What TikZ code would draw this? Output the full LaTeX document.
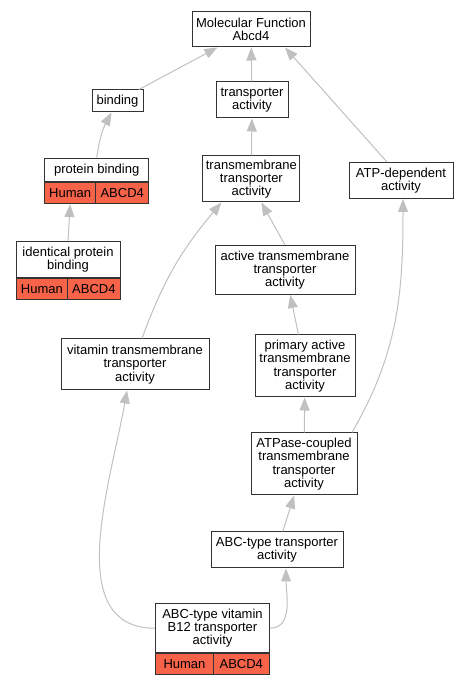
\documentclass[tikz,border=0pt]{standalone}
\usepackage{fontspec}
\setmainfont{Liberation Sans}
\usetikzlibrary{arrows.meta}
\definecolor{hitred}{RGB}{246,99,72}
\definecolor{edgegray}{RGB}{192,192,192}
\tikzset{
  term/.style={draw=black!80, line width=1pt, fill=white, align=center,
    inner sep=0pt, font=\fontsize{13}{13.3}\selectfont},
  gene/.style={term, fill=hitred, anchor=north west},
  link/.style={color=edgegray, line width=1pt, -{Triangle[length=13pt,width=10pt]}}
}

\begin{document}
\begin{tikzpicture}[x=1pt, y=1pt]
\useasboundingbox (0,0) rectangle (465,685);
% terms
\node[term, minimum width=118pt, minimum height=35pt] (mf) at (251,655.5) {Molecular Function\\Abcd4};
\node[term, minimum width=51pt, minimum height=22pt] (bd) at (117.5,584) {binding};
\node[term, minimum width=72pt, minimum height=36pt] (ta) at (252,585) {transporter\\activity};
\node[term, minimum width=104pt, minimum height=23.5pt] (pb) at (96.7,515.2) {protein binding};
\node[gene, minimum width=51pt, minimum height=21pt] (pbh) at (pb.south west) {Human};
\node[gene, anchor=north east, minimum width=53pt, minimum height=21pt] (pbg) at (pb.south east) {ABCD4};
\node[term, minimum width=104pt, minimum height=35.5pt] (ipb) at (68,425.7) {identical protein\\binding};
\node[gene, minimum width=51.7pt, minimum height=21.5pt] (ipbh) at (ipb.south west) {Human};
\node[gene, anchor=north east, minimum width=52.3pt, minimum height=21.5pt] (ipbg) at (ipb.south east) {ABCD4};
\node[term, minimum width=97pt, minimum height=46pt] (tm) at (251.4,506) {transmembrane\\transporter\\activity};
\node[term, minimum width=104pt, minimum height=36pt] (atp) at (401,504.5) {ATP-dependent\\activity};
\node[term, minimum width=140pt, minimum height=49pt] (atm) at (285,415) {active transmembrane\\transporter\\activity};
\node[term, minimum width=148pt, minimum height=51pt] (vtm) at (135,320.5) {vitamin transmembrane\\transporter\\activity};
\node[term, minimum width=100pt, minimum height=62pt] (pa) at (305,319) {primary active\\transmembrane\\transporter\\activity};
\node[term, minimum width=106pt, minimum height=62pt] (atpc) at (304,221) {ATPase-coupled\\transmembrane\\transporter\\activity};
\node[term, minimum width=132pt, minimum height=36pt] (abc) at (277,135) {ABC-type transporter\\activity};
\node[term, minimum width=113.6pt, minimum height=48.5pt] (b12) at (212.5,56.75) {ABC-type vitamin\\B12 transporter\\activity};
\node[gene, minimum width=57.6pt, minimum height=21.5pt] (b12h) at (b12.south west) {Human};
\node[gene, anchor=north east, minimum width=56pt, minimum height=21.5pt] (b12g) at (b12.south east) {ABCD4};
% is_a links
\path[link]
(bd) edge (mf)
(ta) edge (mf)
([xshift=-14pt]atp.north) edge ([xshift=34pt]mf.south)
(pb.north) edge[out=82, in=-118] ([xshift=-6pt]bd.south)
(ipb.north) edge (pbh.south)
(tm) edge (ta)
(atm.north) edge ([xshift=10pt]tm.south)
([xshift=7pt]vtm.north) edge[out=70, in=-130] ([xshift=-30pt]tm.south)
(pa) edge (atm)
(atpc) edge (pa)
([xshift=48pt]atpc.north) edge[out=60, in=-90] ([xshift=2pt]atp.south)
(abc) edge (atpc)
(b12.east) edge[out=0, in=-90] ([xshift=9pt]abc.south)
(b12.west) edge[out=180, in=-100] ([xshift=-8pt]vtm.south);
\end{tikzpicture}
\end{document}
